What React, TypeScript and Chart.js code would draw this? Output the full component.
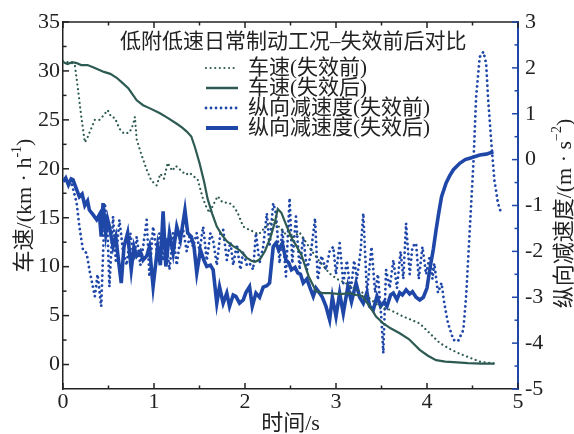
import React, { useEffect, useRef } from "react";
import { Chart, registerables } from "chart.js";
Chart.register(...registerables);

// ---------- data ----------
const speedBeforeT = [0, 0.05, 0.1, 0.13, 0.16, 0.2, 0.24, 0.27, 0.3, 0.35, 0.4, 0.45, 0.49, 0.53, 0.57, 0.62, 0.67, 0.73, 0.77, 0.79, 0.81, 0.86, 0.92, 0.97, 1.03, 1.07, 1.11, 1.15, 1.2, 1.24, 1.3, 1.35, 1.39, 1.44, 1.48, 1.54, 1.58, 1.61, 1.65, 1.7, 1.75, 1.83, 1.87, 1.92, 1.98, 2.04, 2.09, 2.15, 2.2, 2.26, 2.31, 2.38, 2.45, 2.52, 2.6, 2.67, 2.75, 2.84, 2.93, 3.02, 3.11, 3.2, 3.3, 3.39, 3.48, 3.59, 3.74, 3.92, 4.03, 4.14, 4.25, 4.36, 4.47, 4.58, 4.66, 4.74];
const speedBeforeV = [31.0, 30.9, 30.8, 30.6, 28.5, 25.4, 22.7, 23.2, 23.9, 25.0, 25.0, 25.5, 26.0, 25.3, 25.2, 24.1, 23.6, 23.7, 24.5, 25.3, 23.0, 21.5, 19.9, 18.8, 18.3, 19.5, 19.0, 20.6, 19.8, 20.3, 19.8, 19.4, 19.6, 19.2, 18.9, 16.9, 16.0, 15.5, 16.3, 17.2, 16.6, 16.5, 16.2, 15.5, 14.1, 13.8, 13.6, 13.3, 13.8, 14.3, 14.8, 14.0, 13.3, 13.0, 13.5, 12.5, 11.4, 10.3, 9.3, 8.7, 8.3, 7.8, 7.3, 6.6, 5.9, 5.6, 4.9, 4.2, 3.2, 2.2, 1.6, 1.1, 0.7, 0.3, 0.2, 0.1];

const speedAfterT = [0, 0.05, 0.1, 0.15, 0.2, 0.27, 0.35, 0.45, 0.52, 0.59, 0.65, 0.72, 0.81, 0.88, 0.95, 1.06, 1.15, 1.25, 1.31, 1.36, 1.41, 1.45, 1.5, 1.55, 1.59, 1.64, 1.69, 1.75, 1.8, 1.87, 1.94, 2.02, 2.07, 2.11, 2.16, 2.22, 2.28, 2.33, 2.36, 2.4, 2.46, 2.52, 2.56, 2.62, 2.7, 2.78, 2.85, 2.93, 3.05, 3.15, 3.22, 3.29, 3.35, 3.4, 3.44, 3.52, 3.6, 3.7, 3.8, 3.92, 4.01, 4.1, 4.2, 4.29, 4.45, 4.6, 4.74];
const speedAfterV = [30.9, 30.7, 30.9, 30.8, 30.6, 30.6, 30.3, 29.9, 29.7, 29.3, 28.8, 28.2, 27.0, 26.5, 26.2, 25.7, 25.2, 24.6, 24.2, 23.8, 23.3, 22.2, 20.6, 18.7, 16.9, 15.4, 14.1, 13.2, 12.6, 12.1, 11.7, 10.9, 10.6, 10.5, 10.7, 11.6, 13.0, 14.6, 15.9, 15.5, 14.1, 12.8, 12.2, 11.2, 9.0, 7.5, 7.3, 7.3, 7.2, 7.3, 7.1, 7.0, 6.2, 5.5, 4.9, 4.2, 3.7, 3.2, 2.6, 1.5, 0.9, 0.45, 0.3, 0.25, 0.15, 0.1, 0.1];

const decelBeforeT = [0, 0.05, 0.1, 0.15, 0.18, 0.22, 0.26, 0.29, 0.32, 0.35, 0.38, 0.42, 0.46, 0.49, 0.51, 0.55, 0.58, 0.62, 0.66, 0.7, 0.74, 0.78, 0.81, 0.85, 0.88, 0.92, 0.95, 0.99, 1.03, 1.06, 1.1, 1.13, 1.17, 1.21, 1.25, 1.29, 1.32, 1.36, 1.39, 1.43, 1.47, 1.5, 1.54, 1.58, 1.62, 1.65, 1.69, 1.73, 1.76, 1.8, 1.84, 1.87, 1.91, 1.95, 1.98, 2.02, 2.05, 2.09, 2.12, 2.16, 2.2, 2.24, 2.27, 2.31, 2.34, 2.38, 2.41, 2.45, 2.49, 2.52, 2.56, 2.6, 2.64, 2.68, 2.72, 2.77, 2.8, 2.84, 2.89, 2.93, 2.97, 3.0, 3.04, 3.08, 3.12, 3.16, 3.2, 3.23, 3.27, 3.3, 3.34, 3.39, 3.43, 3.46, 3.5, 3.52, 3.55, 3.59, 3.63, 3.67, 3.71, 3.74, 3.77, 3.81, 3.84, 3.88, 3.91, 3.95, 3.99, 4.03, 4.06, 4.08, 4.12, 4.16, 4.19, 4.23, 4.29, 4.34, 4.4, 4.43, 4.47, 4.51, 4.54, 4.58, 4.62, 4.65, 4.67, 4.71, 4.74, 4.78, 4.82];
const decelBeforeV = [-0.45, -0.5, -0.55, -0.95, -1.46, -1.97, -2.04, -2.4, -2.69, -2.98, -2.5, -3.2, -0.95, -1.6, -2.77, -1.24, -2.2, -1.31, -2.0, -2.3, -1.6, -2.2, -1.68, -2.3, -1.9, -1.31, -2.55, -1.46, -2.0, -1.6, -2.2, -1.7, -2.4, -1.6, -2.3, -1.7, -1.53, -2.0, -1.68, -1.9, -1.6, -2.0, -1.46, -2.2, -1.6, -1.75, -2.3, -1.6, -1.53, -2.19, -1.8, -2.3, -1.85, -2.4, -2.0, -2.3, -2.26, -2.4, -1.6, -2.26, -1.9, -1.17, -1.9, -0.95, -1.17, -2.26, -1.5, -2.55, -0.84, -2.26, -1.24, -2.4, -1.68, -2.4, -2.1, -1.28, -2.62, -2.1, -2.4, -2.0, -1.9, -2.5, -1.82, -2.69, -2.2, -2.9, -2.2, -2.6, -2.0, -1.17, -2.91, -1.9, -2.9, -2.5, -3.49, -4.22, -2.4, -2.8, -2.19, -2.8, -2.0, -2.6, -1.39, -2.5, -1.9, -1.82, -2.6, -1.9, -2.5, -2.1, -2.6, -2.26, -2.9, -2.69, -3.13, -3.56, -3.93, -3.96, -3.71, -2.98, -1.53, -0.08, 1.37, 2.24, 2.35, 2.1, 1.37, 0.28, -0.44, -0.95, -1.2];

const decelAfterT = [0, 0.03, 0.06, 0.09, 0.11, 0.14, 0.18, 0.21, 0.24, 0.27, 0.29, 0.33, 0.37, 0.4, 0.42, 0.44, 0.47, 0.49, 0.51, 0.55, 0.58, 0.61, 0.64, 0.67, 0.71, 0.75, 0.78, 0.81, 0.85, 0.88, 0.92, 0.95, 0.99, 1.04, 1.07, 1.1, 1.13, 1.17, 1.21, 1.25, 1.29, 1.34, 1.37, 1.41, 1.44, 1.47, 1.51, 1.55, 1.58, 1.62, 1.65, 1.69, 1.72, 1.76, 1.8, 1.83, 1.87, 1.9, 1.94, 1.98, 2.01, 2.05, 2.08, 2.12, 2.16, 2.2, 2.24, 2.27, 2.31, 2.34, 2.37, 2.41, 2.45, 2.48, 2.51, 2.55, 2.58, 2.61, 2.64, 2.68, 2.71, 2.75, 2.78, 2.82, 2.85, 2.89, 2.93, 2.96, 3.0, 3.04, 3.08, 3.13, 3.17, 3.22, 3.26, 3.3, 3.34, 3.37, 3.41, 3.45, 3.49, 3.53, 3.56, 3.6, 3.63, 3.67, 3.7, 3.73, 3.77, 3.81, 3.84, 3.88, 3.92, 3.96, 4.0, 4.03, 4.07, 4.1, 4.13, 4.16, 4.21, 4.25, 4.29, 4.36, 4.42, 4.47, 4.58, 4.65, 4.73];
const decelAfterV = [-0.48, -0.4, -0.55, -0.42, -0.44, -0.6, -0.81, -0.75, -1.0, -0.9, -1.1, -1.2, -1.31, -1.2, -1.68, -0.95, -1.6, -1.3, -1.46, -1.9, -1.68, -2.2, -2.69, -1.9, -1.6, -2.4, -1.9, -2.1, -2.0, -2.19, -2.1, -1.9, -2.77, -1.9, -2.3, -1.13, -2.33, -1.6, -2.04, -1.46, -1.75, -1.1, -1.6, -1.68, -1.9, -2.47, -1.97, -2.2, -2.33, -2.3, -2.4, -3.13, -2.77, -3.13, -2.91, -3.2, -2.95, -2.98, -3.13, -3.06, -2.9, -2.77, -3.2, -2.91, -3.0, -2.78, -2.75, -2.69, -1.9, -1.82, -1.97, -1.82, -2.19, -2.25, -2.4, -2.35, -2.47, -2.5, -2.69, -2.6, -2.77, -2.98, -2.8, -2.91, -3.0, -3.2, -3.49, -3.0, -3.42, -2.91, -3.35, -2.77, -3.1, -2.69, -3.0, -3.13, -2.9, -3.2, -3.27, -2.98, -3.2, -3.1, -3.2, -2.95, -2.91, -3.05, -2.9, -2.95, -2.84, -2.93, -2.88, -3.0, -3.06, -3.0, -2.8, -2.4, -1.95, -1.53, -1.15, -0.81, -0.51, -0.35, -0.22, -0.08, 0.0, 0.03, 0.1, 0.12, 0.17];

const xTicks = [0, 1, 2, 3, 4, 5];
const leftTicks = [0, 5, 10, 15, 20, 25, 30, 35];
const rightTicks = [-5, -4, -3, -2, -1, 0, 1, 2, 3];

const chartTitle = "低附低速日常制动工况–失效前后对比";
const seriesNames = ["车速(失效前)", "车速(失效后)", "纵向减速度(失效前)", "纵向减速度(失效后)"];
const xTitle = "时间/s";

// ---------- styles ----------
const GREEN = "#2d5b53";
const BLUE = "#1f47a8";
const AXIS = "#222";
const FONT = '"Liberation Serif", "Noto Sans CJK SC", serif';
const DOT_G = [0.01, 4.6];
const DOT_B = [0.01, 5];

const pts = (t: number[], v: number[]) => t.map((x, i) => ({ x, y: v[i] }));

type Part = { t: string; sup?: boolean };

function drawRich(ctx: CanvasRenderingContext2D, parts: Part[], cx: number, cy: number, size: number) {
  const supSize = Math.round(size * 0.62);
  let total = 0;
  const widths = parts.map((p) => {
    ctx.font = `${p.sup ? supSize : size}px ${FONT}`;
    const w = ctx.measureText(p.t).width;
    total += w;
    return w;
  });
  let x = cx - total / 2;
  ctx.textAlign = "left";
  ctx.textBaseline = "alphabetic";
  const base = cy + size * 0.35;
  parts.forEach((p, i) => {
    ctx.font = `${p.sup ? supSize : size}px ${FONT}`;
    ctx.fillText(p.t, x, p.sup ? base - size * 0.42 : base);
    x += widths[i];
  });
}

const decorPlugin = {
  id: "decor",
  afterDraw(chart: any) {
    const { ctx, chartArea } = chart;
    const { left, right, top, bottom } = chartArea;
    const xs = chart.scales.x;
    const ys = chart.scales.y;
    const y2 = chart.scales.y2;
    ctx.save();
    ctx.lineWidth = 1.5;
    ctx.strokeStyle = AXIS;
    const line = (a: number, b: number, c: number, d: number) => {
      ctx.beginPath();
      ctx.moveTo(a, b);
      ctx.lineTo(c, d);
      ctx.stroke();
    };
    // top border
    line(left, top, right, top);
    // x ticks (bottom & top), inward
    for (let v = 0; v <= 5.001; v += 0.5) {
      const px = xs.getPixelForValue(v);
      const len = Math.abs(v - Math.round(v)) < 1e-6 ? 6 : 3.5;
      line(px, bottom, px, bottom - len);
      line(px, top, px, top + len);
    }
    // left y ticks
    for (let v = 0; v <= 35.001; v += 2.5) {
      const py = ys.getPixelForValue(v);
      const len = Math.abs(v / 5 - Math.round(v / 5)) < 1e-6 ? 6 : 3.5;
      line(left, py, left + len, py);
    }
    // right y ticks
    ctx.strokeStyle = BLUE;
    for (let v = -5; v <= 3.001; v += 0.5) {
      const py = y2.getPixelForValue(v);
      const len = Math.abs(v - Math.round(v)) < 1e-6 ? 6 : 3.5;
      line(right, py, right - len, py);
    }

    // axis titles
    ctx.fillStyle = AXIS;
    const midY = (top + bottom) / 2;
    ctx.save();
    ctx.translate(23, midY);
    ctx.rotate(-Math.PI / 2);
    drawRich(ctx, [{ t: "车速/(km · h" }, { t: "-1", sup: true }, { t: ")" }], 0, 0, 22);
    ctx.restore();
    ctx.save();
    ctx.translate(563, midY + 8);
    ctx.rotate(-Math.PI / 2);
    drawRich(ctx, [{ t: "纵向减速度/(m · s" }, { t: "−2", sup: true }, { t: ")" }], 0, 0, 22);
    ctx.restore();
    drawRich(ctx, [{ t: xTitle }], (left + right) / 2, 422, 22);

    // chart title
    ctx.font = `21px ${FONT}`;
    ctx.textAlign = "left";
    ctx.textBaseline = "middle";
    ctx.fillText(chartTitle, 120, 42);

    // legend
    const styles = [
      { c: GREEN, w: 2.2, d: DOT_G },
      { c: GREEN, w: 2.5, d: [] },
      { c: BLUE, w: 2.8, d: DOT_B },
      { c: BLUE, w: 4, d: [] },
    ];
    seriesNames.forEach((name, i) => {
      const yy = 68 + i * 20;
      ctx.strokeStyle = styles[i].c;
      ctx.lineWidth = styles[i].w;
      ctx.lineCap = styles[i].d.length ? "round" : "butt";
      ctx.setLineDash(styles[i].d);
      line(206, yy, 238, yy);
      ctx.setLineDash([]);
      ctx.lineCap = "butt";
      ctx.fillStyle = AXIS;
      ctx.font = `21px ${FONT}`;
      ctx.textBaseline = "middle";
      ctx.fillText(name, 248, yy);
    });
    ctx.restore();
  },
};

export default function App() {
  const ref = useRef<HTMLCanvasElement | null>(null);
  useEffect(() => {
    document.body.style.margin = "0";
    const canvas = ref.current;
    if (!canvas) return;
    const tickFont = { family: FONT, size: 22 };
    const chart = new Chart(canvas, {
      type: "line",
      data: {
        datasets: [
          {
            label: seriesNames[1],
            data: pts(speedAfterT, speedAfterV),
            yAxisID: "y",
            borderColor: GREEN,
            borderWidth: 2.2,
            pointRadius: 0,
            order: 1,
          },
          {
            label: seriesNames[0],
            data: pts(speedBeforeT, speedBeforeV),
            yAxisID: "y",
            borderColor: GREEN,
            borderWidth: 2.2,
            borderDash: DOT_G,
            borderCapStyle: "round",
            pointRadius: 0,
            order: 2,
          },
          {
            label: seriesNames[3],
            data: pts(decelAfterT, decelAfterV),
            yAxisID: "y2",
            borderColor: BLUE,
            borderWidth: 3.6,
            pointRadius: 0,
            order: 3,
          },
          {
            label: seriesNames[2],
            data: pts(decelBeforeT, decelBeforeV),
            yAxisID: "y2",
            borderColor: BLUE,
            borderWidth: 2.8,
            borderDash: DOT_B,
            borderCapStyle: "round",
            pointRadius: 0,
            order: 4,
          },
        ],
      },
      options: {
        animation: false,
        responsive: false,
        maintainAspectRatio: false,
        layout: { padding: { top: 22, left: 0, right: 0, bottom: 0 } },
        plugins: { legend: { display: false }, tooltip: { enabled: false }, title: { display: false } },
        elements: { line: { tension: 0 } },
        scales: {
          x: {
            type: "linear",
            min: 0,
            max: 5,
            afterBuildTicks: (s: any) => {
              s.ticks = xTicks.map((v) => ({ value: v }));
            },
            afterFit: (s: any) => {
              s.height = 45;
            },
            grid: { display: false, drawTicks: false },
            border: { display: true, color: AXIS, width: 1.5 },
            ticks: { font: tickFont, color: AXIS, padding: 0, maxRotation: 0, autoSkip: false },
          },
          y: {
            type: "linear",
            position: "left",
            min: -2.5,
            max: 35,
            afterBuildTicks: (s: any) => {
              s.ticks = leftTicks.map((v) => ({ value: v }));
            },
            afterFit: (s: any) => {
              s.width = 63;
            },
            grid: { display: false, drawTicks: false },
            border: { display: true, color: AXIS, width: 1.5 },
            ticks: { font: tickFont, color: AXIS, padding: 3, autoSkip: false },
          },
          y2: {
            type: "linear",
            position: "right",
            min: -5,
            max: 3,
            afterBuildTicks: (s: any) => {
              s.ticks = rightTicks.map((v) => ({ value: v }));
            },
            afterFit: (s: any) => {
              s.width = 56;
            },
            grid: { display: false, drawTicks: false },
            border: { display: true, color: BLUE, width: 2 },
            ticks: { font: tickFont, color: AXIS, padding: 7, autoSkip: false },
          },
        },
      },
      plugins: [decorPlugin],
    } as any);
    return () => chart.destroy();
  }, []);
  return (
    <div style={{ width: 574, height: 434 }}>
      <canvas ref={ref} width={574} height={434} style={{ display: "block" }} />
    </div>
  );
}
